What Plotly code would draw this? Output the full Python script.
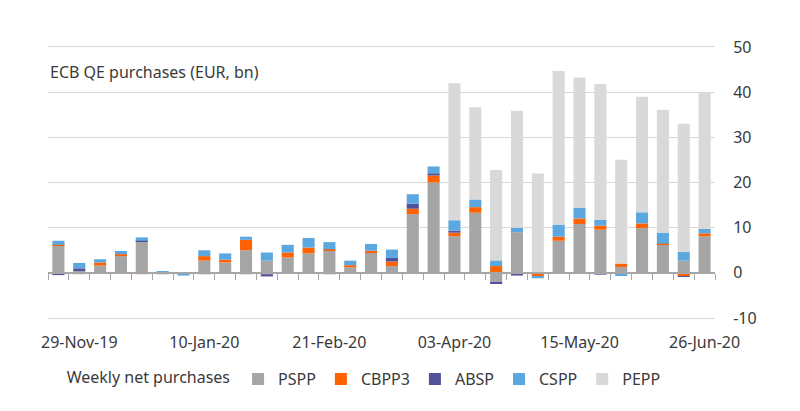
import pandas as pd
import plotly.graph_objects as go

# weekly net purchases, EUR bn
weeks = pd.date_range("2019-11-22", periods=32, freq="7D").strftime("%d-%b-%y").tolist()
tick_labels = ["29-Nov-19", "10-Jan-20", "21-Feb-20", "03-Apr-20", "15-May-20", "26-Jun-20"]
y_ticks = [-10, 0, 10, 20, 30, 40, 50]

pspp = [6.0, 0.4, 1.6, 3.7, 6.9, 0.1, 0.0, 2.7, 2.3, 5.0, 2.7, 3.4, 4.3, 5.0, 1.2, 4.5,
        1.5, 13.0, 20.0, 8.1, 13.3, -2.2, 9.0, -0.3, 7.1, 10.8, 9.55, 1.3, 9.9, 6.3, 2.7, 8.1]
cbpp3 = [0.2, -0.3, 0.7, 0.45, -0.3, 0.0, 0.0, 1.0, 0.6, 2.3, -0.3, 1.1, 1.3, 0.2, 0.5, 0.4,
         1.0, 1.2, 1.55, 0.8, 1.25, 1.5, 0.0, -0.4, 0.9, 1.25, 0.9, 0.75, 1.05, 0.15, -0.7, 0.65]
absp = [-0.5, 0.6, 0.0, 0.0, 0.2, -0.3, -0.2, -0.3, 0.0, -0.3, -0.5, 0.0, 0.0, -0.3, 0.0, 0.0,
        0.8, 1.1, 0.5, 0.45, 0.0, -0.2, -0.6, 0.0, 0.0, 0.0, -0.4, 0.0, 0.0, 0.0, -0.2, -0.1]
cspp = [0.9, 1.2, 0.7, 0.7, 0.75, 0.2, -0.4, 1.3, 1.4, 0.7, 1.8, 1.7, 2.1, 1.6, 1.0, 1.5,
        1.85, 2.1, 1.5, 2.3, 1.7, 1.25, 1.0, -0.5, 2.6, 2.3, 1.25, -0.7, 2.45, 2.45, 1.9, 0.95]
pepp = [0] * 19 + [30.3, 20.4, 20.0, 25.9, 22.0, 34.1, 28.9, 30.1, 23.0, 25.6, 27.2, 28.4, 30.2]

series = [
    ("PSPP", pspp, "#a5a5a5"),
    ("CBPP3", cbpp3, "#ff6200"),
    ("ABSP", absp, "#525199"),
    ("CSPP", cspp, "#5ba7df"),
    ("PEPP", pepp, "#d9d9d9"),
]

FONT = "Noto Sans"
TXT = "#3a3a3a"
AXIS = "#a6a6a6"
GRID = "#d9d9d9"

fig = go.Figure()
for name, vals, col in series:
    fig.add_trace(go.Bar(x=weeks, y=vals, name=name, marker_color=col, marker_line_width=0))

# dummy trace so the zero-crossing axis (ticks between bars) gets drawn
fig.add_trace(go.Scatter(x=[0], y=[0], xaxis="x2", mode="markers",
                         marker=dict(opacity=0), showlegend=False, hoverinfo="skip"))

fig.update_layout(
    width=800,
    height=411,
    barmode="relative",
    bargap=0.42,
    plot_bgcolor="white",
    paper_bgcolor="white",
    font=dict(family=FONT, size=16, color=TXT),
    margin=dict(l=40, r=93, t=39, b=101),
    xaxis=dict(
        type="category",
        tickvals=tick_labels,
        ticktext=tick_labels,
        ticks="outside",
        ticklen=10,
        tickcolor="rgba(0,0,0,0)",
        showgrid=False,
        # top/bottom lines stand in for the 50 and -10 gridlines
        showline=True,
        mirror=True,
        linecolor=GRID,
        linewidth=1,
        zeroline=False,
    ),
    xaxis2=dict(
        overlaying="x",
        anchor="free",
        position=1 / 6,
        range=[-0.5, 31.5],
        tickvals=[i - 0.5 for i in range(33)],
        ticks="outside",
        ticklen=6,
        tickcolor=AXIS,
        showticklabels=False,
        showgrid=False,
        zeroline=False,
        showline=True,
        linecolor=AXIS,
        linewidth=1.5,
    ),
    yaxis=dict(
        side="right",
        range=[-10, 50],
        tickvals=y_ticks,
        ticktext=[str(v) for v in y_ticks],
        showgrid=True,
        gridcolor=GRID,
        zeroline=False,
        ticks="outside",
        ticklen=14,
        tickcolor="rgba(0,0,0,0)",
    ),
    legend=dict(
        orientation="h",
        x=0.025,
        xanchor="left",
        y=-0.225,
        yanchor="middle",
        title=dict(text="Weekly net purchases", side="left", font=dict(size=16)),
        font=dict(size=16),
    ),
    annotations=[
        dict(text="ECB QE purchases (EUR, bn)", xref="paper", yref="paper",
             x=0, y=0.908, xanchor="left", yanchor="middle", showarrow=False,
             font=dict(size=16, color=TXT)),
    ],
)

fig.write_html("out.html")
